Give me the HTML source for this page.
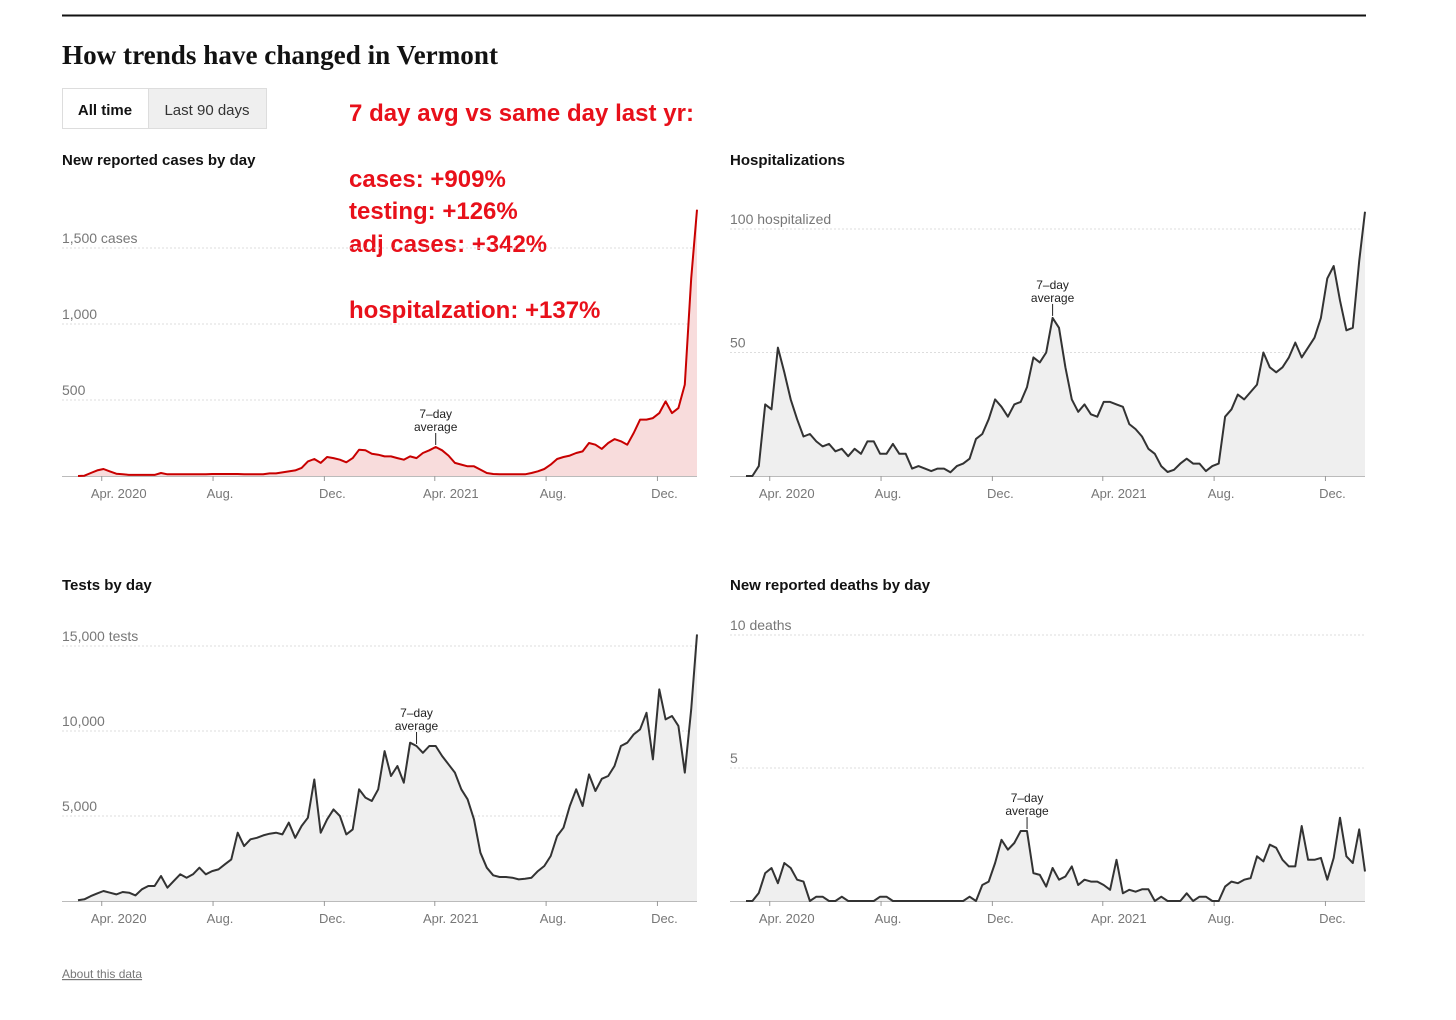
<!DOCTYPE html>
<html><head><meta charset="utf-8"><style>
html,body{margin:0;padding:0;background:#fff;}
svg{display:block;font-family:"Liberation Sans",sans-serif;}
.ttl{font-size:15px;font-weight:bold;fill:#121212;}
.ylab{font-size:14px;fill:#777;}
.xlab{font-size:13px;fill:#777;text-anchor:middle;}
.red{font-size:24px;font-weight:bold;fill:#e8101a;}
.ann{font-size:12px;fill:#222;text-anchor:middle;}
</style></head><body>
<svg id="page" width="1456" height="1020" viewBox="0 0 1456 1020">
<line x1="62" y1="15.5" x2="1366" y2="15.5" stroke="#121212" stroke-width="2"/>
<text x="62" y="64" textLength="436" lengthAdjust="spacingAndGlyphs" style="font-family:'Liberation Serif',serif;font-size:27px;font-weight:bold;fill:#121212">How trends have changed in Vermont</text>
<g><rect x="62.5" y="88.5" width="86" height="40" fill="#fff" stroke="#ddd"/><text x="105" y="115" text-anchor="middle" style="font-size:15px;font-weight:bold;fill:#121212">All time</text></g>
<g><rect x="148.5" y="88.5" width="118" height="40" fill="#efefef" stroke="#ddd"/><text x="207" y="115" text-anchor="middle" style="font-size:15px;fill:#333">Last 90 days</text></g>
<g>
<text class="red" x="349" y="121" textLength="345">7 day avg vs same day last yr:</text>
<text class="red" x="349" y="187">cases: +909%</text>
<text class="red" x="349" y="219">testing:  +126%</text>
<text class="red" x="349" y="252">adj cases: +342%</text>
<text class="red" x="349" y="318">hospitalzation: +137%</text>
</g>
<text x="62" y="978" style="font-size:12px;fill:#777;text-decoration:underline">About this data</text>
<g id="charts"></g>
</svg>
<script>
const tickDays=[26,148,270,391,513,635];
const tickLabels=["Apr. 2020","Aug.","Dec.","Apr. 2021","Aug.","Dec."];
const casesVals=[0,2,20,37,46,30,15,11,7,7,7,7,7,20,11,11,11,11,11,11,11,13,13,13,13,13,11,11,11,11,17,17,24,30,37,53,96,112,86,125,118,107,90,118,173,169,147,140,129,129,118,107,129,118,151,169,191,169,134,86,75,64,64,42,20,13,11,11,11,11,11,20,31,46,75,112,125,134,151,162,217,206,178,217,243,228,206,283,371,371,381,414,491,414,447,601,1300,1752];
const hospVals=[0,0,4,29,27,52,42,31,23,16,17,14,12,13,10,11,8,11,9,14,14,9,9,13,9,9,3,4,3,2,3,3,1.5,4,5,7,15,17,23,31,28,24,29,30,36,48,46,50,64,60,44,31,26,29,25,24,30,30,29,28,21,19,16,11,9,4,1.6,2.5,5,7,5,5,2,4,5,24,27,33,31,34,37,50,44,42,44,48,54,48,52,56,64,80,85,71,59,60,87,107];
const testVals=[40,100,290,450,590,490,390,530,490,330,690,880,880,1470,780,1180,1570,1370,1570,1960,1570,1760,1860,2160,2450,4020,3230,3630,3720,3860,3960,4020,3920,4610,3720,4410,4900,7150,4020,4800,5390,5000,3920,4210,6570,6080,5880,6570,8820,7350,7940,6960,9310,9120,8720,9120,9120,8530,8040,7550,6570,5980,4800,2840,1960,1510,1410,1410,1370,1270,1310,1370,1760,2060,2650,3820,4310,5590,6570,5590,7450,6470,7190,7350,7940,9120,9310,9800,10100,11070,8330,12450,10680,10880,10300,7550,11270,15680];
const deathVals=[0,0,0.3,1.05,1.24,0.67,1.43,1.24,0.8,0.73,0,0.16,0.16,0,0,0.16,0,0,0,0,0,0.16,0.16,0,0,0,0,0,0,0,0,0,0,0,0,0.16,0,0.6,0.73,1.43,2.3,1.93,2.18,2.63,2.63,1.05,0.98,0.54,1.24,0.8,0.92,1.3,0.6,0.8,0.73,0.73,0.6,0.42,1.55,0.29,0.42,0.35,0.44,0.44,0,0.16,0,0,0,0.29,0,0.16,0.16,0,0,0.54,0.73,0.67,0.8,0.86,1.68,1.49,2.12,2,1.55,1.3,1.3,2.82,1.55,1.55,1.62,0.8,1.62,3.13,1.68,1.43,2.69,1.11];
const casesTicks=[500,1000,1500], casesTickLabels=["500","1,000","1,500 cases"];
const hospTicks=[50,100], hospTickLabels=["50","100 hospitalized"];
const testTicks=[5000,10000,15000], testTickLabels=["5,000","10,000","15,000 tests"];
const deathTicks=[5,10], deathTickLabels=["5","10 deaths"];

const NS="http://www.w3.org/2000/svg";
const root=document.getElementById('charts');
function mk(tag,attrs,parent){const e=document.createElementNS(NS,tag);for(const k in attrs)e.setAttribute(k,attrs[k]);parent.appendChild(e);return e;}
const labelOffsets=[17,7,8,16,7,7];
function chart(cfg){
  const g=mk('g',{},root);
  
  
  const ox=cfg.ox, base=cfg.base;
  const xS=d=>ox+16+d*0.9125;
  const yS=v=>base-v*cfg.ppu;
  const t=mk('text',{x:ox,y:cfg.titleY,class:'ttl'},g);t.textContent=cfg.title;
  
  
  cfg.ticks.forEach((v,i)=>{
    const gl=mk('line',{x1:ox,x2:ox+635,y1:yS(v),y2:yS(v),stroke:'#ddd','stroke-dasharray':'2,2'},g);
    
    
    const tl=mk('text',{x:ox,y:yS(v)-5,class:'ylab'},g);tl.textContent=cfg.tickLabels[i];
    
    
  });
  let pts=cfg.vals.map((v,i)=>[Math.min(xS(i*7),ox+635),yS(v)]);
  const ld=pts.map((p,i)=>(i?'L':'M')+p[0].toFixed(1)+','+p[1].toFixed(1)).join('');
  const area=mk('path',{d:ld+'L'+pts[pts.length-1][0].toFixed(1)+','+base+'L'+pts[0][0].toFixed(1)+','+base+'Z',fill:cfg.fill},g);
  
  
  const ax=mk('line',{x1:ox,x2:ox+635,y1:base+0.5,y2:base+0.5,stroke:'#bbb'},g);
  
  
  tickDays.forEach((d,i)=>{
    const tk=mk('line',{x1:xS(d),x2:xS(d),y1:base,y2:base+5,stroke:'#999'},g);
    
    
    const xl=mk('text',{x:xS(d)+labelOffsets[i],y:base+22,class:'xlab'},g);xl.textContent=tickLabels[i];
    
    
  });
  const line=mk('path',{d:ld,fill:'none',stroke:cfg.stroke,'stroke-width':2,'stroke-linejoin':'round'},g);
  
  
  const ai=cfg.annIdx, axp=xS(ai*7), ayp=yS(cfg.vals[ai]);
  const an=mk('g',{},g);
  
  
  mk('line',{x1:axp,x2:axp,y1:ayp-2,y2:ayp-14,stroke:'#222'},an);
  const a1=mk('text',{x:axp,y:ayp-29,class:'ann'},an);a1.textContent='7–day';
  const a2=mk('text',{x:axp,y:ayp-16,class:'ann'},an);a2.textContent='average';
}
chart({name:'cases-chart',title:'New reported cases by day',ox:62,titleY:165,base:476,ppu:76/500,ticks:casesTicks,tickLabels:casesTickLabels,vals:casesVals,fill:'#f8dcdc',stroke:'#c80000',annIdx:56});
chart({name:'hospitalizations-chart',title:'Hospitalizations',ox:730,titleY:165,base:476,ppu:123.5/50,ticks:hospTicks,tickLabels:hospTickLabels,vals:hospVals,fill:'#efefef',stroke:'#333',annIdx:48});
chart({name:'tests-chart',title:'Tests by day',ox:62,titleY:590,base:901,ppu:85/5000,ticks:testTicks,tickLabels:testTickLabels,vals:testVals,fill:'#efefef',stroke:'#333',annIdx:53});
chart({name:'deaths-chart',title:'New reported deaths by day',ox:730,titleY:590,base:901,ppu:133/5,ticks:deathTicks,tickLabels:deathTickLabels,vals:deathVals,fill:'#efefef',stroke:'#333',annIdx:44});
</script>
</body></html>
